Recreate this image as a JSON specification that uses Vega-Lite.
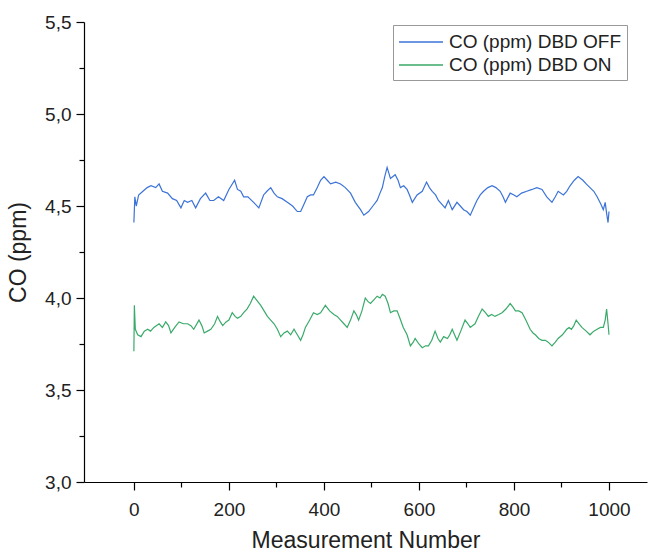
{
  "$schema": "https://vega.github.io/schema/vega-lite/v6.json",
  "width": 563,
  "height": 460,
  "autosize": "none",
  "padding": {"left": 84, "top": 22, "right": 1, "bottom": 74},
  "config": {
    "font": "Liberation Sans",
    "view": {"stroke": null},
    "axis": {"grid": false, "domainColor": "#000", "tickColor": "#000", "labelColor": "#222", "titleColor": "#222", "labelFont": "Liberation Sans", "titleFont": "Liberation Sans", "titleFontWeight": "normal", "domainWidth": 1.2, "tickWidth": 1.2}
  },
  "datasets": {
    "off": [
      {"n":0,"co":4.41},{"n":2,"co":4.55},{"n":5,"co":4.50},{"n":10,"co":4.56},{"n":19,"co":4.58},{"n":28,"co":4.60},{"n":36,"co":4.61},{"n":46,"co":4.60},{"n":53,"co":4.62},{"n":60,"co":4.58},{"n":71,"co":4.57},{"n":81,"co":4.54},{"n":90,"co":4.53},{"n":99,"co":4.49},{"n":106,"co":4.53},{"n":113,"co":4.52},{"n":122,"co":4.53},{"n":130,"co":4.49},{"n":140,"co":4.54},{"n":151,"co":4.57},{"n":160,"co":4.53},{"n":168,"co":4.53},{"n":178,"co":4.55},{"n":189,"co":4.53},{"n":200,"co":4.59},{"n":212,"co":4.64},{"n":218,"co":4.59},{"n":225,"co":4.58},{"n":231,"co":4.55},{"n":240,"co":4.55},{"n":252,"co":4.52},{"n":263,"co":4.49},{"n":273,"co":4.56},{"n":280,"co":4.58},{"n":288,"co":4.60},{"n":295,"co":4.57},{"n":302,"co":4.55},{"n":312,"co":4.54},{"n":323,"co":4.52},{"n":334,"co":4.50},{"n":344,"co":4.47},{"n":351,"co":4.47},{"n":358,"co":4.51},{"n":365,"co":4.55},{"n":372,"co":4.56},{"n":378,"co":4.56},{"n":386,"co":4.60},{"n":393,"co":4.64},{"n":400,"co":4.66},{"n":407,"co":4.64},{"n":414,"co":4.62},{"n":425,"co":4.63},{"n":435,"co":4.62},{"n":445,"co":4.60},{"n":456,"co":4.57},{"n":466,"co":4.52},{"n":477,"co":4.48},{"n":484,"co":4.45},{"n":494,"co":4.47},{"n":503,"co":4.50},{"n":512,"co":4.53},{"n":518,"co":4.57},{"n":523,"co":4.60},{"n":528,"co":4.66},{"n":533,"co":4.71},{"n":540,"co":4.65},{"n":550,"co":4.67},{"n":556,"co":4.64},{"n":561,"co":4.60},{"n":568,"co":4.61},{"n":575,"co":4.59},{"n":580,"co":4.56},{"n":586,"co":4.52},{"n":596,"co":4.56},{"n":607,"co":4.58},{"n":616,"co":4.63},{"n":622,"co":4.60},{"n":628,"co":4.58},{"n":635,"co":4.56},{"n":641,"co":4.53},{"n":648,"co":4.51},{"n":655,"co":4.49},{"n":662,"co":4.53},{"n":670,"co":4.48},{"n":680,"co":4.52},{"n":687,"co":4.50},{"n":694,"co":4.48},{"n":701,"co":4.47},{"n":708,"co":4.45},{"n":715,"co":4.49},{"n":722,"co":4.53},{"n":729,"co":4.56},{"n":736,"co":4.58},{"n":745,"co":4.60},{"n":754,"co":4.61},{"n":762,"co":4.60},{"n":771,"co":4.58},{"n":777,"co":4.55},{"n":782,"co":4.52},{"n":792,"co":4.57},{"n":800,"co":4.56},{"n":806,"co":4.55},{"n":816,"co":4.57},{"n":827,"co":4.58},{"n":838,"co":4.59},{"n":848,"co":4.60},{"n":859,"co":4.59},{"n":869,"co":4.55},{"n":880,"co":4.52},{"n":887,"co":4.55},{"n":893,"co":4.58},{"n":904,"co":4.56},{"n":911,"co":4.58},{"n":918,"co":4.61},{"n":927,"co":4.64},{"n":935,"co":4.66},{"n":945,"co":4.64},{"n":952,"co":4.62},{"n":960,"co":4.60},{"n":968,"co":4.58},{"n":975,"co":4.55},{"n":983,"co":4.51},{"n":988,"co":4.48},{"n":992,"co":4.52},{"n":995,"co":4.46},{"n":998,"co":4.41},{"n":1000,"co":4.47}
    ],
    "on": [
      {"n":0,"co":3.71},{"n":1,"co":3.96},{"n":3,"co":3.83},{"n":8,"co":3.80},{"n":15,"co":3.79},{"n":22,"co":3.82},{"n":29,"co":3.83},{"n":35,"co":3.82},{"n":42,"co":3.84},{"n":53,"co":3.86},{"n":60,"co":3.84},{"n":67,"co":3.87},{"n":73,"co":3.85},{"n":78,"co":3.81},{"n":86,"co":3.84},{"n":95,"co":3.87},{"n":104,"co":3.86},{"n":113,"co":3.86},{"n":120,"co":3.85},{"n":126,"co":3.83},{"n":137,"co":3.88},{"n":143,"co":3.85},{"n":148,"co":3.81},{"n":155,"co":3.82},{"n":162,"co":3.83},{"n":170,"co":3.86},{"n":176,"co":3.90},{"n":182,"co":3.87},{"n":187,"co":3.85},{"n":194,"co":3.87},{"n":200,"co":3.88},{"n":207,"co":3.92},{"n":213,"co":3.90},{"n":218,"co":3.89},{"n":225,"co":3.90},{"n":231,"co":3.92},{"n":238,"co":3.94},{"n":245,"co":3.97},{"n":252,"co":4.01},{"n":258,"co":3.99},{"n":267,"co":3.96},{"n":274,"co":3.93},{"n":281,"co":3.90},{"n":288,"co":3.88},{"n":295,"co":3.86},{"n":302,"co":3.83},{"n":309,"co":3.79},{"n":316,"co":3.81},{"n":323,"co":3.82},{"n":330,"co":3.80},{"n":337,"co":3.83},{"n":344,"co":3.80},{"n":351,"co":3.77},{"n":356,"co":3.80},{"n":361,"co":3.84},{"n":370,"co":3.88},{"n":378,"co":3.92},{"n":386,"co":3.91},{"n":393,"co":3.92},{"n":403,"co":3.96},{"n":412,"co":3.93},{"n":421,"co":3.91},{"n":428,"co":3.90},{"n":435,"co":3.88},{"n":442,"co":3.86},{"n":449,"co":3.84},{"n":456,"co":3.88},{"n":463,"co":3.93},{"n":468,"co":3.91},{"n":473,"co":3.88},{"n":480,"co":3.93},{"n":487,"co":4.00},{"n":493,"co":3.98},{"n":498,"co":3.97},{"n":505,"co":3.99},{"n":512,"co":4.01},{"n":518,"co":4.00},{"n":523,"co":4.02},{"n":529,"co":4.01},{"n":535,"co":3.97},{"n":540,"co":3.92},{"n":547,"co":3.93},{"n":554,"co":3.93},{"n":560,"co":3.89},{"n":567,"co":3.84},{"n":575,"co":3.80},{"n":582,"co":3.74},{"n":588,"co":3.76},{"n":592,"co":3.78},{"n":600,"co":3.75},{"n":607,"co":3.73},{"n":614,"co":3.74},{"n":620,"co":3.74},{"n":627,"co":3.77},{"n":634,"co":3.82},{"n":640,"co":3.78},{"n":645,"co":3.76},{"n":652,"co":3.79},{"n":660,"co":3.78},{"n":665,"co":3.80},{"n":670,"co":3.83},{"n":675,"co":3.80},{"n":680,"co":3.77},{"n":688,"co":3.82},{"n":697,"co":3.88},{"n":703,"co":3.86},{"n":708,"co":3.84},{"n":718,"co":3.86},{"n":725,"co":3.90},{"n":733,"co":3.94},{"n":740,"co":3.92},{"n":746,"co":3.90},{"n":753,"co":3.91},{"n":760,"co":3.90},{"n":768,"co":3.91},{"n":775,"co":3.92},{"n":783,"co":3.94},{"n":792,"co":3.97},{"n":798,"co":3.95},{"n":803,"co":3.93},{"n":810,"co":3.93},{"n":817,"co":3.92},{"n":825,"co":3.88},{"n":834,"co":3.83},{"n":840,"co":3.81},{"n":845,"co":3.80},{"n":852,"co":3.78},{"n":859,"co":3.77},{"n":866,"co":3.77},{"n":872,"co":3.76},{"n":880,"co":3.74},{"n":887,"co":3.76},{"n":893,"co":3.78},{"n":902,"co":3.80},{"n":911,"co":3.83},{"n":916,"co":3.84},{"n":921,"co":3.83},{"n":926,"co":3.85},{"n":931,"co":3.88},{"n":937,"co":3.86},{"n":943,"co":3.84},{"n":952,"co":3.82},{"n":960,"co":3.80},{"n":968,"co":3.82},{"n":975,"co":3.83},{"n":982,"co":3.84},{"n":988,"co":3.84},{"n":992,"co":3.88},{"n":995,"co":3.94},{"n":998,"co":3.86},{"n":1000,"co":3.80}
    ]
  },
  "layer": [
    {
      "data": {"name": "off"},
      "transform": [{"calculate": "'CO (ppm) DBD OFF'", "as": "s"}],
      "mark": {"type": "line", "strokeWidth": 1.2},
      "encoding": {
        "x": {"field": "n", "type": "quantitative", "scale": {"domain": [-105, 1080], "nice": false, "zero": false},
          "axis": {"orient": "bottom", "values": [0, 200, 400, 600, 800, 1000], "format": "d", "tickSize": 8, "labelFontSize": 19, "labelPadding": 10, "title": "Measurement Number", "titleFontSize": 23, "titlePadding": 10}},
        "y": {"field": "co", "type": "quantitative", "scale": {"domain": [3, 5.5], "nice": false, "zero": false},
          "axis": {"orient": "left", "values": [3, 3.5, 4, 4.5, 5, 5.5], "labelExpr": "replace(format(datum.value, '.1f'), '.', ',')", "tickSize": 8, "labelFontSize": 19, "labelPadding": 5, "title": "CO (ppm)", "titleFontSize": 23, "titlePadding": 14}},
        "color": {"field": "s", "type": "nominal",
          "scale": {"domain": ["CO (ppm) DBD OFF", "CO (ppm) DBD ON"], "range": ["#3b73d8", "#3aaa6a"]},
          "legend": {"orient": "none", "legendX": 309, "legendY": 3, "title": null, "symbolType": "M-1,0H3", "symbolSize": 484, "symbolStrokeWidth": 1.3, "labelFontSize": 19, "labelColor": "#222", "labelLimit": 400, "labelOffset": 27, "strokeColor": "#999", "fillColor": "white", "padding": 5, "rowPadding": 1, "cornerRadius": 0}}
      }
    },
    {
      "data": {"name": "on"},
      "transform": [{"calculate": "'CO (ppm) DBD ON'", "as": "s"}],
      "mark": {"type": "line", "strokeWidth": 1.2},
      "encoding": {
        "x": {"field": "n", "type": "quantitative", "axis": null},
        "y": {"field": "co", "type": "quantitative", "axis": null},
        "color": {"field": "s", "type": "nominal"}
      }
    },
    {
      "data": {"name": "off"},
      "mark": {"type": "line", "opacity": 0},
      "encoding": {
        "x": {"field": "n", "type": "quantitative", "axis": {"orient": "bottom", "values": [100, 300, 500, 700, 900], "tickSize": 5, "labels": false, "domain": false, "title": null}},
        "y": {"field": "co", "type": "quantitative", "axis": {"orient": "left", "values": [3.25, 3.75, 4.25, 4.75, 5.25], "tickSize": 5, "labels": false, "domain": false, "title": null}}
      }
    }
  ],
  "resolve": {"axis": {"x": "independent", "y": "independent"}}
}
